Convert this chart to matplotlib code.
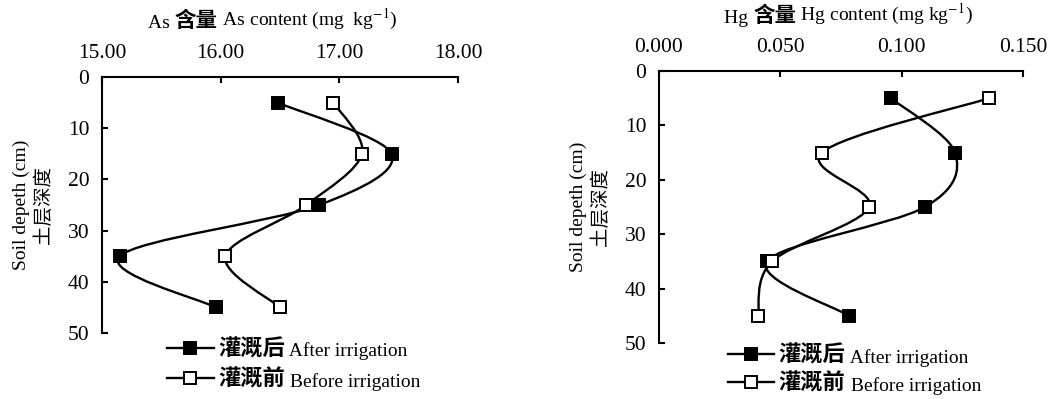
import numpy as np
import matplotlib.pyplot as plt
from matplotlib.path import Path
from matplotlib.patches import PathPatch
from matplotlib.lines import Line2D

plt.rcParams['font.family'] = ['Liberation Serif', 'Noto Sans CJK SC']
plt.rcParams['mathtext.fontset'] = 'stix'

# soil depth (cm) and contents (mg/kg)
depth = [5, 15, 25, 35, 45]
as_after = [16.48, 17.44, 16.83, 15.15, 15.96]
as_before = [16.95, 17.19, 16.72, 16.04, 16.50]
hg_after = [0.0956, 0.122, 0.1096, 0.0445, 0.0783]
hg_before = [0.136, 0.0672, 0.0866, 0.0466, 0.0408]

as_ticks = [15.0, 16.0, 17.0, 18.0]
hg_ticks = [0.0, 0.05, 0.10, 0.15]
depth_ticks = [0, 10, 20, 30, 40, 50]

leg_cn = ['灌溉后', '灌溉前']
leg_en = [' After irrigation', ' Before irrigation']
FAM = ['Liberation Serif', 'Noto Sans CJK SC']


def smooth_path(x, y):
    # Excel-like smoothed line: Catmull-Rom as cubic bezier segments
    pts = np.column_stack([x, y]).astype(float)
    n = len(pts)
    verts = [pts[0]]
    codes = [Path.MOVETO]
    for i in range(n - 1):
        p0 = pts[max(i - 1, 0)]
        p1 = pts[i]
        p2 = pts[i + 1]
        p3 = pts[min(i + 2, n - 1)]
        verts += [p1 + (p2 - p0) / 6, p2 - (p3 - p1) / 6, p2]
        codes += [Path.CURVE4] * 3
    return Path(verts, codes)


def draw_series(ax, x, y, filled):
    ax.add_patch(PathPatch(smooth_path(x, y), fill=False, ec='black', lw=1.7))
    ax.plot(x, y, ls='none', marker='s', ms=8, mec='black', mew=1.4,
            mfc='black' if filled else 'white', zorder=4)


def setup(ax, xlim, xticks, fmt):
    ax.set_xlim(xlim)
    ax.set_ylim(50, 0)
    ax.xaxis.tick_top()
    ax.spines['bottom'].set_visible(False)
    ax.spines['right'].set_visible(False)
    for s in ['top', 'left']:
        ax.spines[s].set_linewidth(1.5)
    ax.set_xticks(xticks)
    ax.set_xticklabels([fmt % v for v in xticks])
    ax.set_yticks(depth_ticks)
    ax.tick_params(direction='in', length=4, width=1.5, labelsize=15.5,
                   top=True, bottom=False)
    ax.tick_params(axis='x', pad=10)
    ax.tick_params(axis='y', pad=9)
    ax.set_ylabel('Soil depeth (cm)\n土层深度', fontsize=14, labelpad=11,
                  linespacing=1.3)


def chain(ax, x, y, pieces):
    prev = ax.annotate(pieces[0][0], xy=(x, y), xycoords='figure fraction',
                       va='bottom', ha='left', annotation_clip=False, **pieces[0][1])
    for s, kw in pieces[1:]:
        prev = ax.annotate(s, xy=(1, 0), xycoords=prev, va='bottom', ha='left',
                           annotation_clip=False, **kw)


def legend(ax, x, y, spacing):
    handles = [Line2D([], [], color='black', lw=1.7, marker='s', ms=8, mew=1.4,
                      mec='black', mfc=c) for c in ['black', 'white']]
    leg = ax.legend(handles, leg_cn, loc='upper left', bbox_to_anchor=(x, y),
                    bbox_transform=fig.transFigure, frameon=False,
                    prop={'family': FAM, 'weight': 'bold', 'size': 16},
                    handlelength=2.1, handletextpad=0.2, labelspacing=spacing,
                    borderpad=0, borderaxespad=0)
    for t, en in zip(leg.get_texts(), leg_en):
        ax.annotate(en, xy=(1, 0), xycoords=t, va='bottom', ha='left',
                    fontsize=14, zorder=6, annotation_clip=False)


fig = plt.figure(figsize=(10.5, 3.99), dpi=100)
ax1 = fig.add_axes([0.0971, 0.1654, 0.3391, 0.6416])
ax2 = fig.add_axes([0.6276, 0.1404, 0.3467, 0.6817])

draw_series(ax1, as_after, depth, True)
draw_series(ax1, as_before, depth, False)
setup(ax1, (15, 18), as_ticks, '%.2f')

draw_series(ax2, hg_after, depth, True)
draw_series(ax2, hg_before, depth, False)
setup(ax2, (0, 0.15), hg_ticks, '%.3f')

bold = {'fontsize': 15.5, 'weight': 'bold'}
norm = {'fontsize': 14}
chain(ax1, 0.141, 0.921, [('As ', norm), ('含量', bold),
                          (' As content (mg  kg$^{-1}$)', norm)])
chain(ax2, 0.690, 0.932, [('Hg ', norm), ('含量', bold),
                          (' Hg content (mg kg$^{-1}$)', norm)])

legend(ax1, 0.159, 0.150, 0.4)
legend(ax2, 0.693, 0.134, 0.3)

fig.savefig('out.png', dpi=100)
